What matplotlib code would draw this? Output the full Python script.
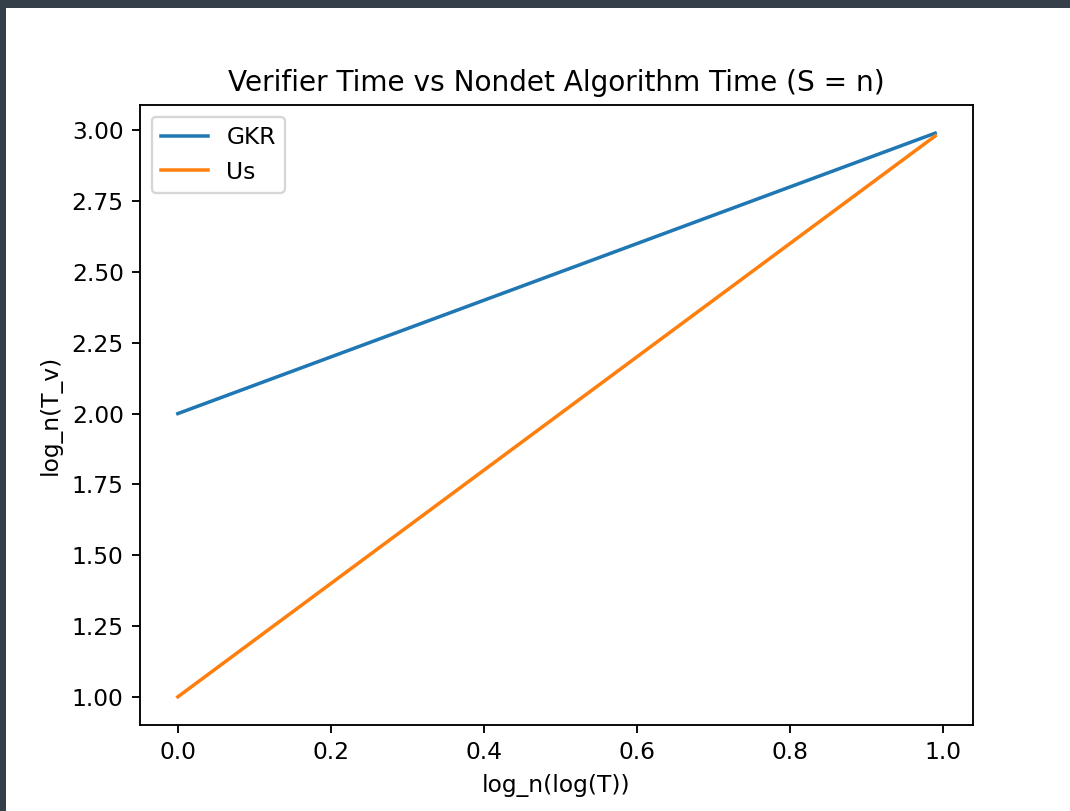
import matplotlib
matplotlib.use("Agg")
import matplotlib.pyplot as plt
from matplotlib.patches import Rectangle

# data
log_log_T = [0.0, 0.99]
gkr = [2.0, 2.99]
us = [1.0, 2.98]

W, H = 1070, 811
fig = plt.figure(figsize=(W / 168, H / 168), dpi=168)

# dark screenshot border (top and left)
dark = "#343f4a"
fig.patches.append(Rectangle((0, 1 - 8 / H), 1, 8 / H, transform=fig.transFigure,
                             facecolor=dark, edgecolor="none", zorder=10))
fig.patches.append(Rectangle((0, 0), 6 / W, 1, transform=fig.transFigure,
                             facecolor=dark, edgecolor="none", zorder=10))

ax = fig.add_axes([140 / W, 1 - 725 / H, (973 - 140) / W, (725 - 105) / H])
ax.plot(log_log_T, gkr, label="GKR")
ax.plot(log_log_T, us, label="Us")
ax.set_title("Verifier Time vs Nondet Algorithm Time (S = n)")
ax.set_xlabel("log_n(log(T))")
ax.set_ylabel("log_n(T_v)")
ax.legend(loc="upper left")

plt.savefig("out.png", dpi=168)
